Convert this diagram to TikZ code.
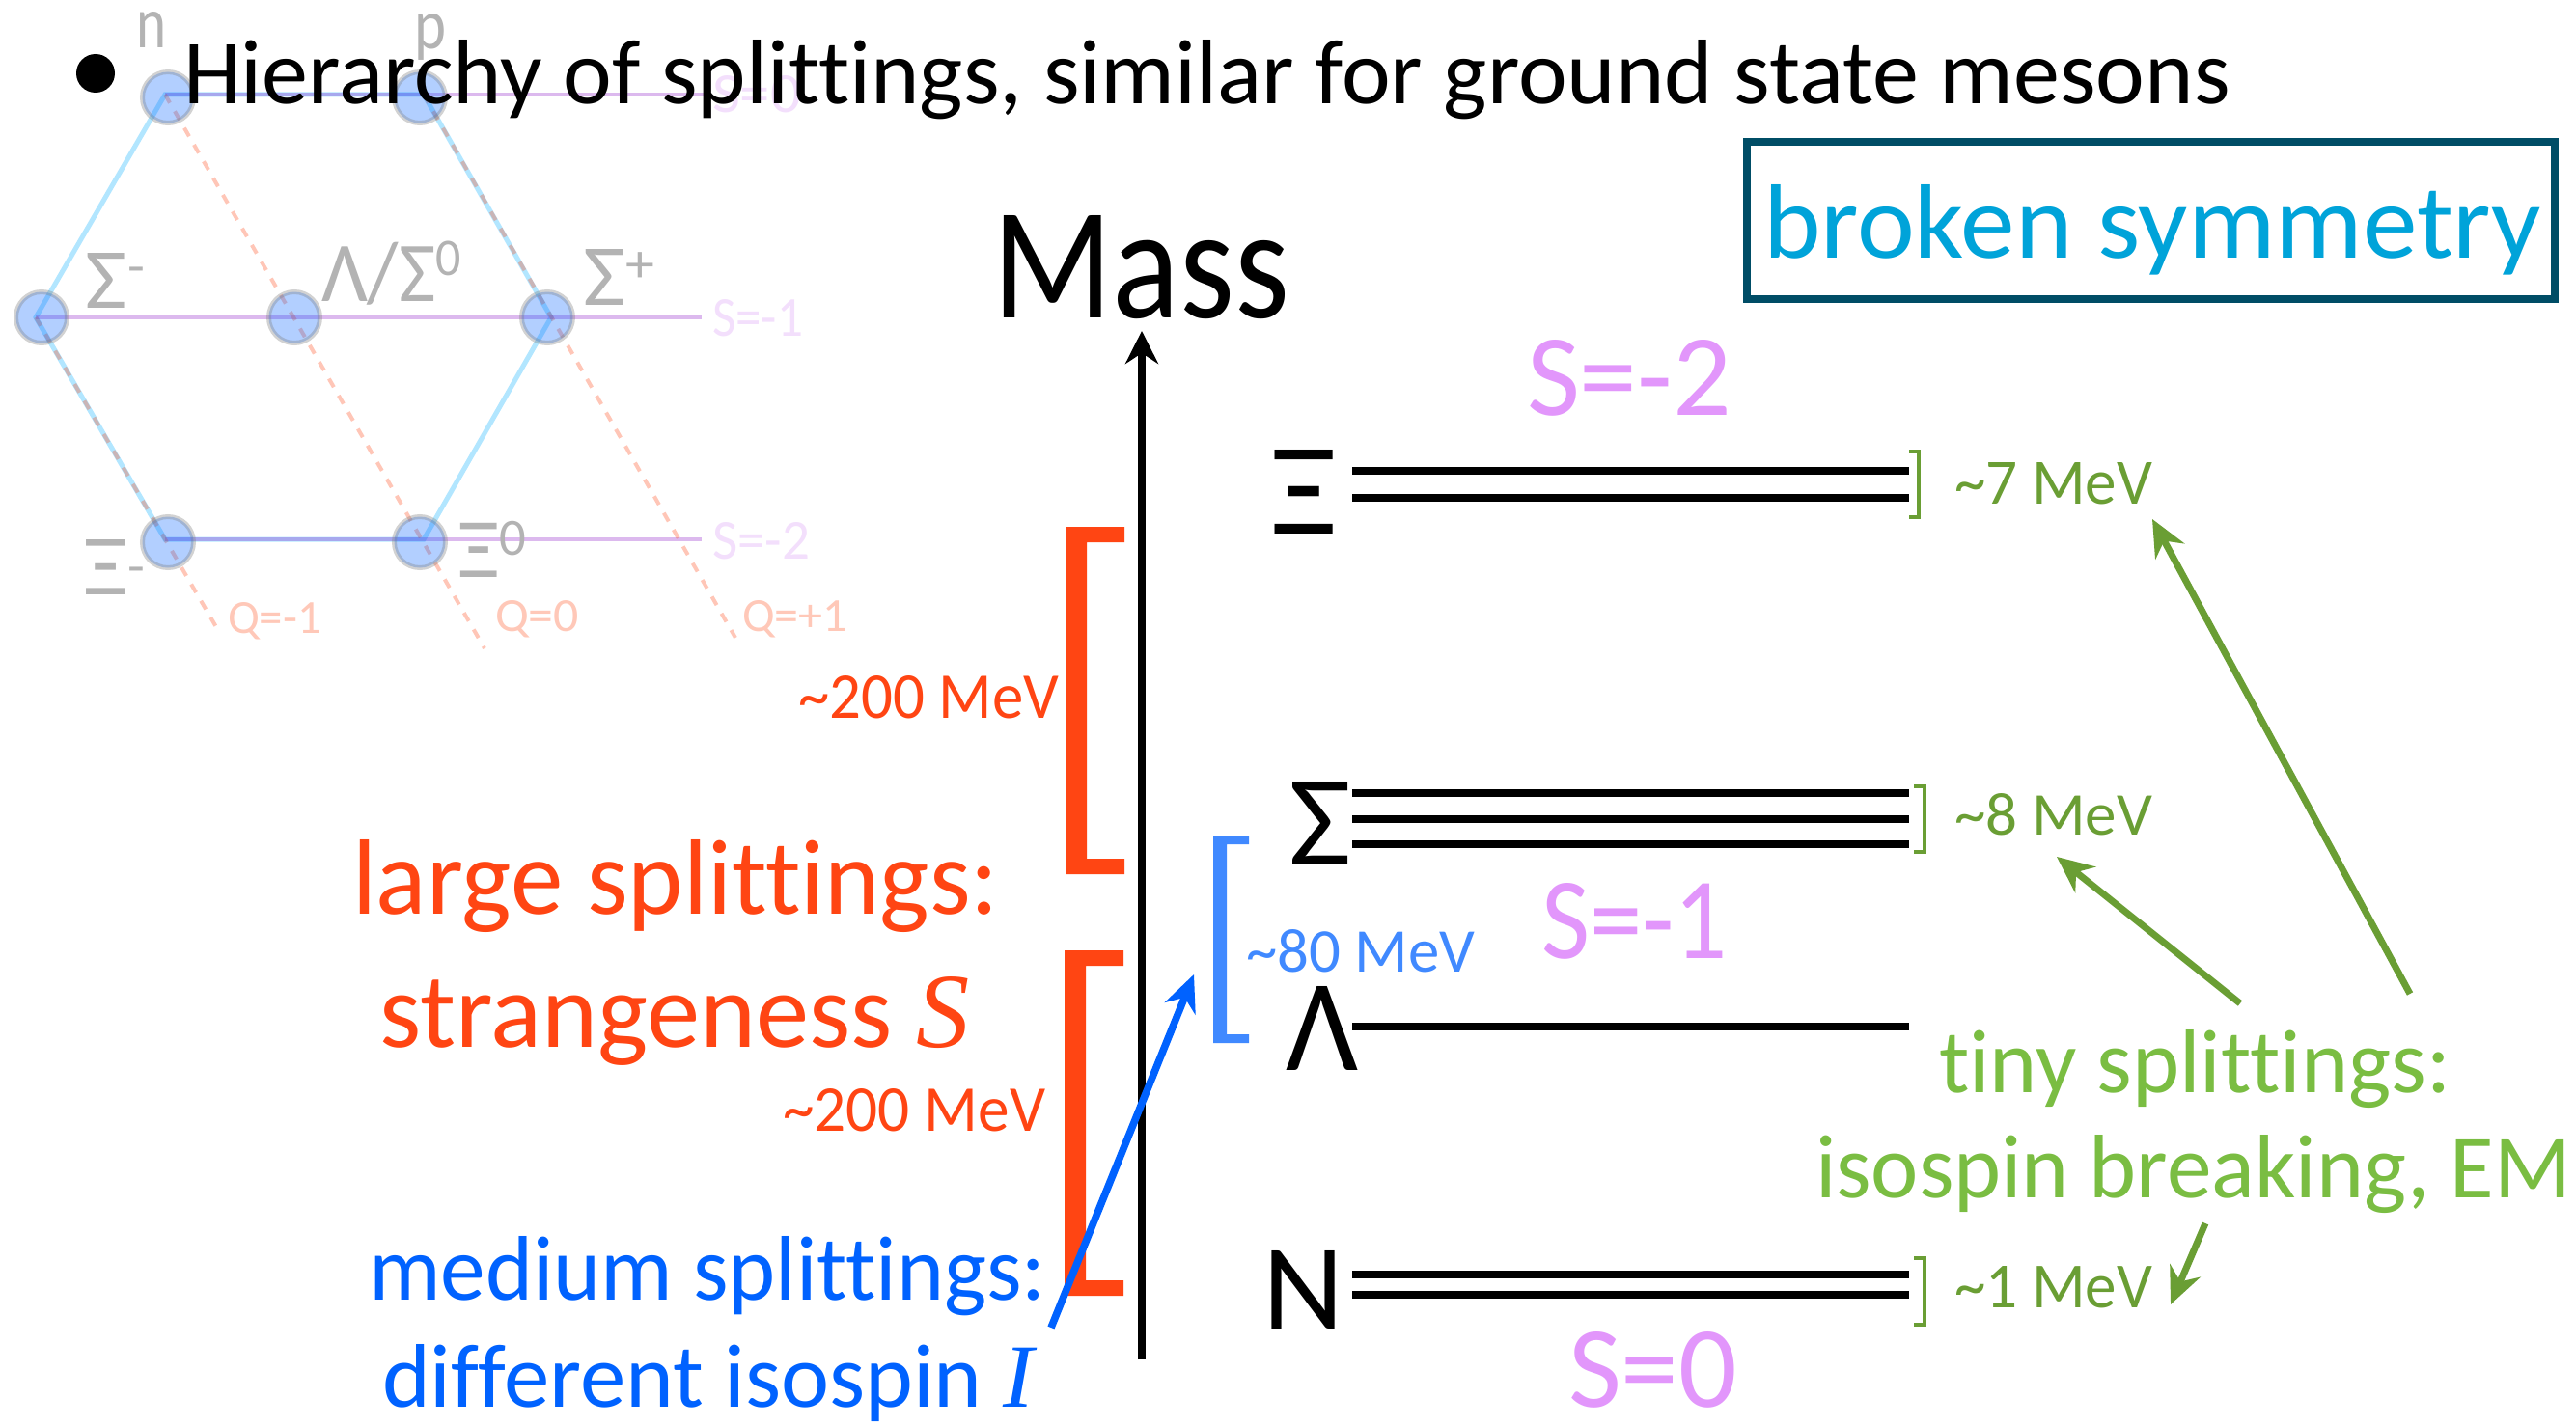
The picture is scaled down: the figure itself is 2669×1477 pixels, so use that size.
\documentclass[tikz,border=0pt]{standalone}
\usepackage{fontspec}
\usepackage{graphicx}
\setmainfont[Ligatures={NoCommon,NoRare}]{Carlito}
\newfontfamily\serifit{Liberation Serif}
\usetikzlibrary{arrows.meta}
\definecolor{cRed}{HTML}{FF4513}
\definecolor{cBlue}{HTML}{0062FF}
\definecolor{cMid}{HTML}{4089FF}
\definecolor{cDkGreen}{HTML}{6A9E34}
\definecolor{cGreen}{HTML}{7ABD42}
\definecolor{cPink}{HTML}{E296FB}
\definecolor{cPaleP}{HTML}{F3DFFC}
\definecolor{cPaleQ}{HTML}{FFC8B8}
\definecolor{cGray}{HTML}{B3B3B3}
\definecolor{cCyan}{HTML}{00A3D9}
\definecolor{cTeal}{HTML}{004D66}
\definecolor{cHex}{HTML}{00AEFF}
\definecolor{cSl}{HTML}{8E1AC8}
\tikzset{
  txt/.style={anchor=base west,inner sep=0pt,outer sep=0pt},
  hexline/.style={draw=cHex,opacity=.3,line width=2.5pt},
  sline/.style={draw=cSl,opacity=.3,line width=2.3pt},
  qline/.style={draw=cRed,opacity=.3,line width=2pt,dash pattern=on 5pt off 5pt},
  baryon/.style={circle,minimum size=26.5pt,inner sep=0pt,fill=cBlue,fill opacity=.3,draw=gray,draw opacity=.35,line width=2.5pt},
  level/.style={line width=4pt,black},
  tick/.style={line width=1.6pt,cDkGreen},
  greenarrow/.style={line width=3.5pt,cDkGreen,-{Stealth[length=19pt,width=17pt]}},
  bluearrow/.style={line width=3.8pt,cBlue,-{Stealth[length=19pt,width=17pt]}},
  axisline/.style={line width=4pt,black,-{Stealth[length=17pt,width=17pt]}},
  thickbr/.style={fill=cRed},
  midbr/.style={fill=cMid},
}
\newcommand{\lblh}[7]{\node[txt,text=#6] (#1) at (#2,#3) {\resizebox{\dimexpr #4pt/2\relax}{\dimexpr #5pt/2\relax}{#7}};}
\newcommand{\supr}[2]{\raisebox{#1em}{\scalebox{.62}{#2}}}
\begin{document}
\begin{tikzpicture}[x=0.5pt,y=-0.5pt]
\fill[white] (0,0) rectangle (2669,1477);
\useasboundingbox (0,0) rectangle (2669,1477);
% faded octet
\coordinate (hn) at (171,98); \coordinate (hp) at (439,98); \coordinate (hsp) at (571,329);
\coordinate (hxz) at (439,559); \coordinate (hxm) at (171,559); \coordinate (hsm) at (37,329);
\coordinate (s0e) at (729,98); \coordinate (s1e) at (727,329); \coordinate (s2e) at (727,559);
\coordinate (q1e) at (227,655); \coordinate (q2e) at (502,672); \coordinate (q3e) at (762,661);
\draw[hexline] (hn) -- (hp) -- (hsp) -- (hxz) -- (hxm) -- (hsm) -- cycle;
\draw[sline] (hn) -- (s0e);
\draw[sline] (hsm) -- (s1e);
\draw[sline] (hxm) -- (s2e);
\draw[qline] (hsm) -- (q1e);
\draw[qline] (hn) -- (q2e);
\draw[qline] (hp) -- (q3e);
\node[baryon] (bn) at (174,101) {};
\node[baryon] (bp) at (435,101) {};
\node[baryon] (bsm) at (43,329) {};
\node[baryon] (bl) at (305,329) {};
\node[baryon] (bsp) at (567,329) {};
\node[baryon] (bxm) at (174,562) {};
\node[baryon] (bxz) at (435,562) {};
\lblh{ln}{141}{50}{31}{37}{cGray}{n}
\lblh{lp}{429}{51}{33}{36}{cGray}{p}
\lblh{lsm}{89}{319}{61}{57}{cGray}{Σ\supr{.28}{-}}
\lblh{ll}{333}{312}{145}{62}{cGray}{Λ/Σ\supr{.3}{0}}
\lblh{lsp}{604}{316}{74}{58}{cGray}{Σ\supr{.26}{+}}
\lblh{lxm}{86}{616}{64}{57}{cGray}{Ξ\supr{.12}{-}}
\lblh{lxz}{474}{598}{71}{58}{cGray}{Ξ\supr{.26}{0}}
\lblh{ps0}{738}{117}{92}{38}{cPaleP}{S=0}
\lblh{ps1}{738}{348}{94}{38}{cPaleP}{S=-1}
\lblh{ps2}{738}{579}{101}{38}{cPaleP}{S=-2}
\lblh{pq1}{236}{656}{97}{32}{cPaleQ}{Q=-1}
\lblh{pq2}{513}{654}{87}{32}{cPaleQ}{Q=0}
\lblh{pq3}{769}{654}{109}{32}{cPaleQ}{Q=+1}
% title
\node[circle,fill=black,minimum size=20pt,inner sep=0pt] (bullet) at (99,76) {};
\lblh{title}{190}{107}{2120}{66}{black}{Hierarchy of splittings, similar for ground state mesons}
% broken symmetry
\node[draw=cTeal,line width=4pt,outer sep=0pt,minimum width=418.5pt,minimum height=81.5pt,inner sep=0pt,anchor=north west] (boxb) at (1810,147) {};
\lblh{broken}{1827}{267}{806}{76}{cCyan}{broken symmetry}
% axis
\lblh{mass}{1028}{329}{308}{106}{black}{Mass}
\coordinate (axb) at (1183,1409); \coordinate (axt) at (1183,343);
\draw[axisline] (axb) -- (axt);
% levels
\foreach \nm/\yy in {xa/488,xb/516,sa/822,sb/849,sc/875,lam/1064,na/1321,nb/1342}{
  \coordinate (\nm L) at (1401,\yy); \coordinate (\nm R) at (1978,\yy);
  \draw[level] (\nm L) -- (\nm R);
}
\lblh{bigx}{1316}{553}{69}{87}{black}{Ξ}
\lblh{bigs}{1335}{896}{65}{86}{black}{Σ}
\lblh{bigl}{1332}{1109}{75}{87}{black}{Λ}
\lblh{bign}{1308}{1377}{84}{81}{black}{N}
% brackets
\fill[thickbr] (1165,546) -- (1104,546) -- (1104,906) -- (1165,906) -- (1165,890) -- (1126,890) -- (1126,562) -- (1165,562) -- cycle;
\fill[thickbr] (1164,985) -- (1103,985) -- (1103,1343) -- (1164,1343) -- (1164,1327) -- (1125,1327) -- (1125,1001) -- (1164,1001) -- cycle;
\fill[midbr] (1294,866) -- (1257,866) -- (1257,1081) -- (1294,1081) -- (1294,1072) -- (1271,1072) -- (1271,875) -- (1294,875) -- cycle;
% green ticks
\draw[tick] (1978,468) -- (1988,468) -- (1988,536) -- (1978,536);
\draw[tick] (1983,815) -- (1994,815) -- (1994,883) -- (1983,883);
\draw[tick] (1983,1304) -- (1994,1304) -- (1994,1373) -- (1983,1373);
% text labels
\lblh{s2}{1582}{430}{212}{78}{cPink}{S=-2}
\lblh{s1}{1597}{993}{193}{78}{cPink}{S=-1}
\lblh{s0}{1625}{1458}{175}{78}{cPink}{S=0}
\lblh{m7}{2025}{522}{205}{43}{cDkGreen}{\textasciitilde 7 MeV}
\lblh{m8}{2025}{865}{205}{43}{cDkGreen}{\textasciitilde 8 MeV}
\lblh{m1}{2025}{1355}{205}{43}{cDkGreen}{\textasciitilde 1 MeV}
\lblh{r1}{827}{744}{270}{44}{cRed}{\textasciitilde 200 MeV}
\lblh{r2}{811}{1172}{272}{44}{cRed}{\textasciitilde 200 MeV}
\lblh{b80}{1291}{1007}{237}{44}{cMid}{\textasciitilde 80 MeV}
\lblh{large}{365}{947}{670}{77}{cRed}{large splittings:}
\lblh{strange}{393}{1085}{612}{73}{cRed}{strangeness {\serifit\itshape S}}
\lblh{medium}{382}{1347}{702}{66}{cBlue}{medium splittings:}
\lblh{diff}{396}{1458}{675}{65}{cBlue}{different isospin {\serifit\itshape I}}
\lblh{tiny}{2009}{1132}{530}{65}{cGreen}{tiny splittings:}
\lblh{iso}{1881}{1241}{783}{65}{cGreen}{isospin breaking, EM}
% arrows
\coordinate (ba) at (1089,1376); \coordinate (bb) at (1237,1010);
\draw[bluearrow] (ba) -- (bb);
\coordinate (ga) at (2497,1030); \coordinate (gat) at (2230,538);
\coordinate (gb) at (2321,1040); \coordinate (gbt) at (2131,888);
\coordinate (gc) at (2285,1268); \coordinate (gct) at (2249,1352);
\draw[greenarrow] (ga) -- (gat);
\draw[greenarrow] (gb) -- (gbt);
\draw[greenarrow] (gc) -- (gct);
\end{tikzpicture}
\end{document}
